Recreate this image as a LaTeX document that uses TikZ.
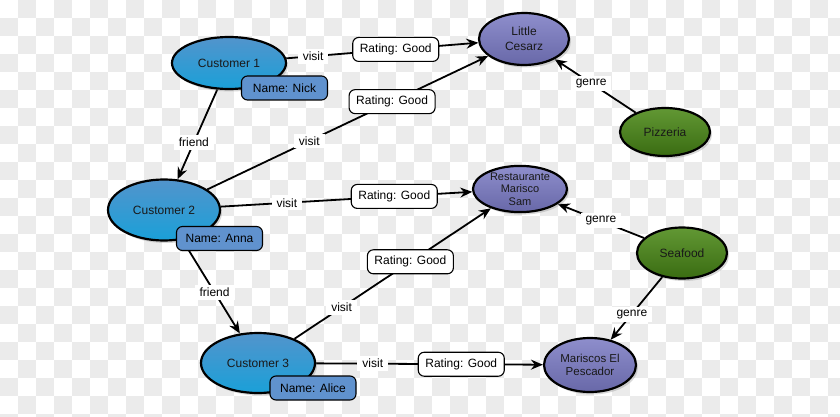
\documentclass[tikz,border=0pt]{standalone}
\usepackage{fontspec}
\setmainfont{Liberation Sans}
\usetikzlibrary{arrows.meta,shapes.geometric,shadows}
\pgfdeclarelayer{checker}
\pgfdeclarelayer{edges}
\pgfsetlayers{checker,edges,main}
\definecolor{custTop}{RGB}{82,148,204}
\definecolor{custBot}{RGB}{26,160,216}
\definecolor{restTop}{RGB}{142,142,204}
\definecolor{restBot}{RGB}{104,104,168}
\definecolor{greenTop}{RGB}{98,152,52}
\definecolor{greenBot}{RGB}{58,108,18}
\definecolor{nameFill}{RGB}{96,146,206}
\definecolor{checkGray}{RGB}{235,235,235}
\tikzset{
  ent/.style={ellipse, draw=black, line width=2.2pt, inner sep=0pt, text=black!90,
    font=\fontsize{12}{15}\selectfont, align=center,
    drop shadow={opacity=0.3, shadow xshift=2pt, shadow yshift=-2.5pt}},
  cust/.style={ent, top color=custTop, bottom color=custBot},
  rest/.style={ent, top color=restTop, bottom color=restBot},
  genrenode/.style={ent, top color=greenTop, bottom color=greenBot},
  namebox/.style={rectangle, rounded corners=6pt, draw=black, line width=1.1pt, fill=nameFill,
    minimum width=86pt, minimum height=24pt, inner sep=0pt, font=\fontsize{12}{14}\selectfont},
  rating/.style={rectangle, rounded corners=6pt, draw=black, line width=1.1pt, fill=white,
    minimum width=86pt, minimum height=24pt, inner sep=0pt, font=\fontsize{12}{14}\selectfont},
  lbl/.style={fill=white, inner xsep=5pt, inner ysep=3pt, font=\fontsize{12}{14}\selectfont},
  rel/.style={line width=1.8pt, -{Stealth[length=12pt,width=10pt,inset=4pt]}},
}
\begin{document}
\begin{tikzpicture}[x=1pt,y=-1pt]
\useasboundingbox (0,0) rectangle (840,417);
\begin{pgfonlayer}{checker}
  \begin{scope}
    \clip (0,0) rectangle (840,417);
    \fill[white] (0,0) rectangle (840,417);
    \foreach \i in {0,...,46}{
      \foreach \j in {0,...,23}{
        \pgfmathtruncatemacro{\chk}{mod(\i+\j,2)}
        \ifnum\chk=1 \fill[checkGray] (\i*18,\j*18) rectangle ++(18,18);\fi
      }
    }
  \end{scope}
\end{pgfonlayer}

% entity nodes
\node[cust, minimum width=114pt, minimum height=52pt] (c1) at (229,63) {Customer 1};
\node[cust, minimum width=112pt, minimum height=61pt] (c2) at (164,210) {Customer 2};
\node[cust, minimum width=114pt, minimum height=60pt] (c3) at (258,363) {Customer 3};
\node[rest, minimum width=90pt, minimum height=52pt] (lc) at (524,39) {Little\\Cesarz};
\node[genrenode, minimum width=90pt, minimum height=48pt] (pz) at (665,132) {Pizzeria};
\node[rest, minimum width=94pt, minimum height=46pt, font=\fontsize{11}{12.5}\selectfont] (rms) at (520,189) {Restaurante\\Marisco\\Sam};
\node[genrenode, minimum width=90pt, minimum height=51pt] (sf) at (682,253) {Seafood};
\node[rest, minimum width=92pt, minimum height=54pt, font=\fontsize{11.5}{13.5}\selectfont] (mep) at (590,365) {Mariscos El\\Pescador};

% name boxes
\node[namebox] (n1) at (284.5,88) {Name: Nick};
\node[namebox] (n2) at (219.5,238.5) {Name: Anna};
\node[namebox] (n3) at (313,388) {Name: Alice};

% connectors
\begin{pgfonlayer}{edges}
\draw[rel] (c1) -- node[lbl,pos=0.14]{visit} node[rating,pos=0.57]{Rating: Good} (lc);
\draw[rel] (c2) -- node[lbl,pos=0.363]{visit} node[rating,pos=0.658]{Rating: Good} (lc);
\draw[rel] (c2) -- node[lbl,pos=0.263]{visit} node[rating,pos=0.69]{Rating: Good} (rms);
\draw[rel] (c3) -- node[lbl,pos=0.24]{visit} node[rating,pos=0.59]{Rating: Good} (rms);
\draw[rel] (c3) -- node[lbl,pos=0.25]{visit} node[rating,pos=0.64]{Rating: Good} (mep);
\draw[rel] (c1) -- node[lbl,pos=0.59]{friend} (c2);
\draw[rel] (c2) -- node[lbl,pos=0.56]{friend} (c3);
\draw[rel] (pz) -- node[lbl,pos=0.55]{genre} (lc);
\draw[rel] (sf) -- node[lbl,pos=0.5]{genre} (rms);
\draw[rel] (sf) -- node[lbl,pos=0.59]{genre} (mep);
\end{pgfonlayer}
\end{tikzpicture}
\end{document}
